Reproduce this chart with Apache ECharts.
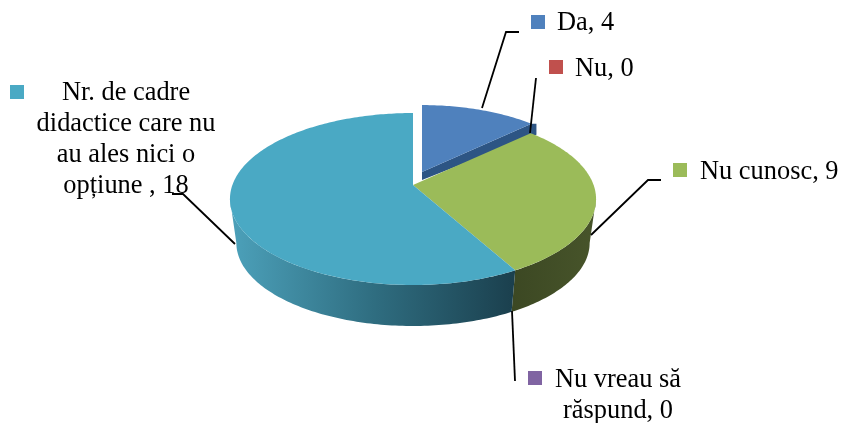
<!DOCTYPE html>
<html>
<head>
<meta charset="utf-8">
<style>html,body{margin:0;padding:0;background:#fff}#c{width:841px;height:423px}</style>
<script src="https://cdn.jsdelivr.net/npm/echarts@6/dist/echarts.min.js"></script>
</head>
<body>
<div id="c"></div>
<script>
// ---- data ----
var categories = ['Da', 'Nu', 'Nu cunosc', 'Nu vreau să\nrăspund', 'Nr. de cadre\ndidactice care nu\nau ales nici o\nopțiune '];
var values = [4, 0, 9, 0, 18];

// ---- styles ----
var topColors = ['#4f81bd', '#c0504d', '#9bbb59', '#8064a2', '#4aa9c4'];
var FONT = '26.4px "Liberation Serif"';
var LINE_H = 31;

// ---- layout of the projected pie ----
var APEX = [413, 185], RX = 180.6, RY = 83.7, PERSP = -0.163;
var WALL_SCALE = 0.965, WALL_APEX_Y = 229.5;
var EXPLODE = {0: {dx: 9, dy: -13, scale: 0.93}};

// label layout per category
var labelLayout = [
  {sq: [531, 15], x: 557, y: 32, align: 'left',  leader: [[482, 108], [506, 32], [519, 32]]},
  {sq: [549, 60], x: 575, y: 78, align: 'left',  leader: [[530, 133], [536, 78]]},
  {sq: [673, 163], x: 700, y: 181, align: 'left', leader: [[591, 235], [648, 180], [661, 180]]},
  {sq: [528, 371], x: 618, y: 389, align: 'center', leader: [[512, 311], [515, 381]]},
  {sq: [10, 85], x: 126, y: 102, align: 'center', leader: [[235, 244], [183, 194], [172, 194]]}
];

var total = values.reduce(function (a, b) { return a + b; }, 0);
var visFrom = Math.acos(PERSP) * 180 / Math.PI, visTo = 360 - visFrom;

function project(deg, scale, ax, ay) {
  var t = deg * Math.PI / 180, s = Math.sin(t), c = Math.cos(t), w = 1 - PERSP * c;
  return [ax + scale * RX * s / w, ay - scale * RY * c / w];
}
function rim(a0, a1, scale, ax, ay) {
  var pts = [], n = Math.max(2, Math.ceil(a1 - a0));
  for (var i = 0; i <= n; i++) pts.push(project(a0 + (a1 - a0) * i / n, scale, ax, ay));
  return pts;
}

function renderItem(params, api) {
  var idx = params.dataIndex;
  var v = api.value(1);
  var start = 0;
  for (var i = 0; i < idx; i++) start += values[i] / total * 360;
  var end = start + v / total * 360;
  var children = [];
  var lay = labelLayout[idx];

  if (v > 0) {
    var ex = EXPLODE[idx];
    if (ex) {
      var ax = APEX[0] + ex.dx, ay = APEX[1] + ex.dy;
      var corner = project(end, ex.scale, ax, ay);
      children.push({type: 'polygon', shape: {points: [
        [ax, ay], corner, [corner[0] + 5, corner[1]], [corner[0] + 5, corner[1] + 11], [ax, ay + 8]
      ]}, style: {fill: '#2d5584'}});
      children.push({type: 'polygon', shape: {points: [[ax, ay]].concat(rim(start, end, ex.scale, ax, ay))},
        style: {fill: topColors[idx]}});
    } else {
      var wa = Math.max(start, visFrom), wb = Math.min(end, visTo);
      var wallFill = idx === 4 ? {
        type: 'linear', x: 236, y: 0, x2: 513, y2: 0, global: true,
        colorStops: [{offset: 0, color: '#4b9fb8'}, {offset: 0.5, color: '#2f6d80'}, {offset: 1, color: '#1b404e'}]
      } : {
        type: 'linear', x: 513, y: 0, x2: 592, y2: 0, global: true,
        colorStops: [{offset: 0, color: '#3c4823'}, {offset: 1, color: '#47542a'}]
      };
      children.push({type: 'polygon', shape: {points:
        rim(wa, wb, 1, APEX[0], APEX[1]).concat(rim(wa, wb, WALL_SCALE, APEX[0], WALL_APEX_Y).reverse())},
        style: {fill: wallFill}});
      children.push({type: 'polygon', shape: {points: [APEX].concat(rim(start, end, 1, APEX[0], APEX[1]))},
        style: {fill: topColors[idx]}});
    }
  }

  children.push({type: 'polyline', z2: 5, shape: {points: lay.leader},
    style: {stroke: '#000', lineWidth: 1.8, fill: null}});
  children.push({type: 'rect', z2: 5, shape: {x: lay.sq[0], y: lay.sq[1], width: 14, height: 14},
    style: {fill: topColors[idx]}});
  children.push({type: 'text', z2: 6, style: {
    text: categories[idx] + ', ' + v,
    x: lay.x, y: lay.y - 24, font: FONT, lineHeight: LINE_H,
    fill: '#000', align: lay.align, verticalAlign: 'top'
  }});
  return {type: 'group', children: children};
}

var chart = echarts.init(document.getElementById('c'), null, {renderer: 'canvas'});
chart.setOption({
  animation: false,
  backgroundColor: '#fff',
  series: [{
    type: 'custom',
    coordinateSystem: 'none',
    renderItem: renderItem,
    data: categories.map(function (c, i) { return {name: c, value: [i, values[i]]}; })
  }]
});
</script>
</body>
</html>
